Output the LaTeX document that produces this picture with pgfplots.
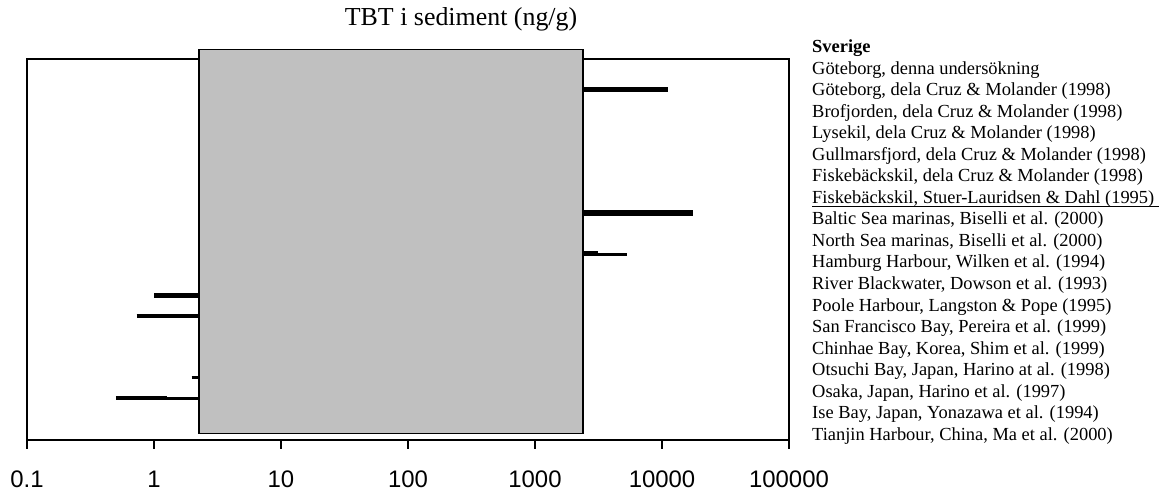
\documentclass[border=0pt]{standalone}
\usepackage{fontspec}
\setmainfont{Liberation Serif}
\newfontfamily\arialf{Liberation Sans}
\usepackage{pgfplots}
\pgfplotsset{compat=1.18}
\definecolor{excelgray}{RGB}{192,192,192}
\begin{document}
\begin{tikzpicture}
\useasboundingbox (0bp,0bp) rectangle (1159bp,490bp);
\begin{axis}[
  at={(27bp,50bp)}, anchor=south west,
  scale only axis, width=762bp, height=381bp,
  xmode=log, xmin=0.1, xmax=100000,
  ymin=0.529, ymax=19.024, y dir=reverse,
  ytick=\empty,
  xtick={0.1,1,10,100,1000,10000,100000},
  xticklabels={0.1,1,10,100,1000,10000,100000},
  minor tick length=0pt,
  xtick pos=bottom, tick align=outside, major tick length=8.7bp,
  xticklabel style={font=\arialf\fontsize{24}{24}\selectfont, anchor=base, inner sep=0pt, yshift=-38.5bp},
  axis line style={line width=1.8bp},
  every tick/.style={black, line width=1.3bp},
  clip=false,
  title={TBT i sediment (ng/g)},
  title style={at={(0.5696,1.0717)}, anchor=base, font=\fontsize{26}{30}\selectfont},
]
% range bars (partly hidden behind the grey box)
\addplot[black, mark=none, line width=4.7bp, line cap=butt] coordinates {(50,2) (11100,2)};
\addplot[black, mark=none, line width=6bp, line cap=butt] coordinates {(10,8) (17700,8)};
\addplot[black, mark=none, line width=3.7bp, line cap=butt] coordinates {(100,10.02) (5330,10.02)};
\addplot[black, mark=none, line width=5.7bp, line cap=butt] coordinates {(100,9.97) (3130,9.97)};
\addplot[black, mark=none, line width=4.7bp, line cap=butt] coordinates {(1.0,12) (300,12)};
\addplot[black, mark=none, line width=4bp, line cap=butt] coordinates {(0.73,13) (200,13)};
\addplot[black, mark=none, line width=3.3bp, line cap=butt] coordinates {(1.98,16) (50,16)};
\addplot[black, mark=none, line width=3.3bp, line cap=butt] coordinates {(1.27,17.02) (80,17.02)};
\addplot[black, mark=none, line width=4.7bp, line cap=butt] coordinates {(0.5,16.99) (1.27,16.99)};
% grey box
\addplot[fill=excelgray, draw=black, line width=1.2bp, mark=none] coordinates {(2.26,0.058) (2388,0.058) (2388,18.70) (2.26,18.70)} -- cycle;
\end{axis}
\begin{scope}[every node/.style={anchor=base west, inner sep=0pt, font=\fontsize{18.5}{21}\selectfont}]
\node at (812bp,437.5bp) {\textbf{Sverige}};
\node at (812bp,415.95bp) {Göteborg, denna undersökning};
\node at (812bp,394.4bp) {Göteborg, dela Cruz \& Molander (1998)};
\node at (812bp,372.85bp) {Brofjorden, dela Cruz \& Molander (1998)};
\node at (812bp,351.3bp) {Lysekil, dela Cruz \& Molander (1998)};
\node at (812bp,329.75bp) {Gullmarsfjord, dela Cruz \& Molander (1998)};
\node at (812bp,308.2bp) {Fiskebäckskil, dela Cruz \& Molander (1998)};
\node at (812bp,286.65bp) {Fiskebäckskil, Stuer-Lauridsen \& Dahl (1995)};
\node at (812bp,265.1bp) {Baltic Sea marinas, Biselli et al. (2000)};
\node at (812bp,243.55bp) {North Sea marinas, Biselli et al. (2000)};
\node at (812bp,222.0bp) {Hamburg Harbour, Wilken et al. (1994)};
\node at (812bp,200.45bp) {River Blackwater, Dowson et al. (1993)};
\node at (812bp,178.9bp) {Poole Harbour, Langston \& Pope (1995)};
\node at (812bp,157.35bp) {San Francisco Bay, Pereira et al. (1999)};
\node at (812bp,135.8bp) {Chinhae Bay, Korea, Shim et al. (1999)};
\node at (812bp,114.25bp) {Otsuchi Bay, Japan, Harino at al. (1998)};
\node at (812bp,92.7bp) {Osaka, Japan, Harino et al. (1997)};
\node at (812bp,71.15bp) {Ise Bay, Japan, Yonazawa et al. (1994)};
\node at (812bp,49.6bp) {Tianjin Harbour, China, Ma et al. (2000)};
\end{scope}
\draw[line width=1.3bp] (812bp,283.3bp) -- (1159bp,283.3bp);
\end{tikzpicture}
\end{document}
